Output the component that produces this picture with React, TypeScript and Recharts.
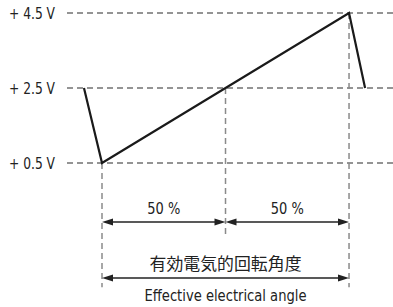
import React from "react";
import { LineChart, Line, XAxis, YAxis, ReferenceLine } from "recharts";

const anglePct = [-7.3, 0, 100, 106.5];
const voltage = [2.5, 0.5, 4.5, 2.5];
const voltTicks = [0.5, 2.5, 4.5];
const splitMarks = [0, 50, 100];
const splitVolts = [0.5, 2.5, 4.5];
const spanLabels = ["50 %", "50 %"];
const titleJa = "有効電気的回転角度";
const titleEn = "Effective electrical angle";

const data = anglePct.map((a, i) => ({ a, v: voltage[i] }));

const LAT = "'Liberation Sans Narrow', 'DejaVu Sans Condensed', 'Roboto', sans-serif";
const CJK = "'Noto Sans CJK JP', sans-serif";

const YTick = (props: any) => {
  const { x, y, payload } = props;
  return (
    <text
      x={x}
      y={y}
      dy={6}
      textAnchor="end"
      fontFamily={LAT}
      fontSize={16}
      textLength={46}
      lengthAdjust="spacingAndGlyphs"
      fill="#222"
    >
      {`+ ${payload.value.toFixed(1)} V`}
    </text>
  );
};

const arrowShape = (labelTop?: string, labelBottom?: string, jaTop?: boolean) => (p: any) => {
  const { x1, y1, x2 } = p;
  const L = 11;
  const W = 3.6;
  const xl = Math.min(x1, x2);
  const xr = Math.max(x1, x2);
  const y = y1;
  const cx = (xl + xr) / 2;
  return (
    <g>
      <line x1={xl + L - 1} y1={y} x2={xr - L + 1} y2={y} stroke="#222" strokeWidth={1.5} />
      <polygon points={`${xl},${y} ${xl + L},${y - W} ${xl + L},${y + W}`} fill="#222" />
      <polygon points={`${xr},${y} ${xr - L},${y - W} ${xr - L},${y + W}`} fill="#222" />
      {labelTop && !jaTop && (
        <text
          x={cx}
          y={y - 8}
          textAnchor="middle"
          fontFamily={LAT}
          fontSize={16}
          textLength={33}
          lengthAdjust="spacingAndGlyphs"
          fill="#222"
        >
          {labelTop}
        </text>
      )}
      {labelTop && jaTop && (
        <text
          x={cx}
          y={y - 8}
          textAnchor="middle"
          fontFamily={CJK}
          fontSize={16.5}
          textLength={152}
          lengthAdjust="spacingAndGlyphs"
          fill="#222"
        >
          {labelTop}
        </text>
      )}
      {labelBottom && (
        <text
          x={cx}
          y={y + 23}
          textAnchor="middle"
          fontFamily={LAT}
          fontSize={16.5}
          textLength={162}
          lengthAdjust="spacingAndGlyphs"
          fill="#222"
        >
          {labelBottom}
        </text>
      )}
    </g>
  );
};

const vBottoms = [-2.81, -1.47, -2.81];

export default function App() {
  return (
    <div style={{ position: "absolute", left: 0, top: 0, background: "#fff" }}>
      <LineChart width={393} height={307} data={data} margin={{ top: 0, right: 0, bottom: 0, left: 0 }}>
        <XAxis dataKey="a" type="number" domain={[-14.17, 117.8]} hide allowDataOverflow />
        <YAxis
          type="number"
          domain={[-3.34, 4.847]}
          ticks={voltTicks}
          width={67}
          axisLine={false}
          tickLine={false}
          tickSize={0}
          tickMargin={12}
          tick={<YTick />}
          allowDataOverflow
          interval={0}
        />
        {voltTicks.map((v) => (
          <ReferenceLine key={`h${v}`} y={v} stroke="#2a2a2a" strokeWidth={1.2} strokeDasharray="6 4" />
        ))}
        {splitMarks.map((m, i) => (
          <ReferenceLine
            key={`v${m}`}
            segment={[
              { x: m, y: splitVolts[i] },
              { x: m, y: vBottoms[i] },
            ]}
            stroke="#8a8a8a"
            strokeWidth={1.5}
            strokeDasharray="6 4"
          />
        ))}
        <ReferenceLine
          segment={[
            { x: splitMarks[0], y: -1.073 },
            { x: splitMarks[1], y: -1.073 },
          ]}
          shape={arrowShape(spanLabels[0])}
        />
        <ReferenceLine
          segment={[
            { x: splitMarks[1], y: -1.073 },
            { x: splitMarks[2], y: -1.073 },
          ]}
          shape={arrowShape(spanLabels[1])}
        />
        <ReferenceLine
          segment={[
            { x: splitMarks[0], y: -2.567 },
            { x: splitMarks[2], y: -2.567 },
          ]}
          shape={arrowShape(titleJa, titleEn, true)}
        />
        <Line
          dataKey="v"
          type="linear"
          stroke="#1a1a1a"
          strokeWidth={2.2}
          dot={false}
          isAnimationActive={false}
        />
      </LineChart>
    </div>
  );
}
